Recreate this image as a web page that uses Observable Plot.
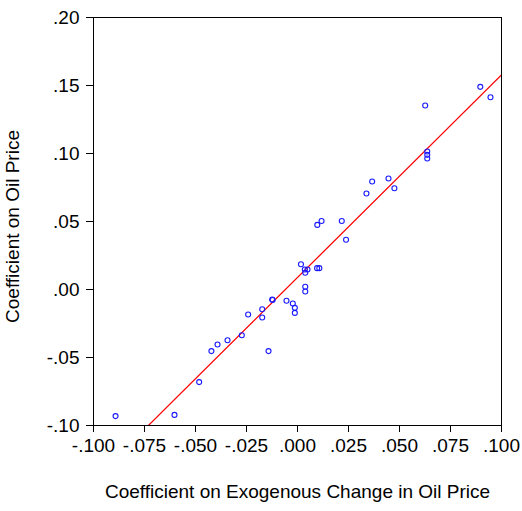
<!DOCTYPE html>
<html>
<head>
<meta charset="utf-8">
<script src="https://cdn.jsdelivr.net/npm/d3@7"></script>
<script src="https://cdn.jsdelivr.net/npm/@observablehq/plot@0.6"></script>
<style>
  html, body { margin: 0; padding: 0; background: white; }
  #chart { width: 522px; height: 511px; }
</style>
</head>
<body>
<div id="chart"></div>
<script>
// Coefficient on exogenous change in oil price (x)
const exoCoef = [
  0.0896, 0.0946, 0.0626, 0.0636, 0.0636, 0.0636,
  0.0366, 0.0446, 0.0475, 0.0338,
  0.0097, 0.0118, 0.0217, 0.0238,
  0.0017, 0.0036, 0.0049, 0.0038, 0.0096, 0.0107,
  0.0038, 0.0038,
  -0.0124, -0.0122, -0.0054, -0.0023, -0.0013, -0.0013,
  -0.0173, -0.0173, -0.0242, -0.0273, -0.0343, -0.0392,
  -0.0422, -0.0142, -0.0482, -0.0603, -0.0892
];
// Coefficient on oil price (y)
const oilCoef = [
  0.1490, 0.1414, 0.1353, 0.1015, 0.0990, 0.0963,
  0.0794, 0.0816, 0.0745, 0.0706,
  0.0475, 0.0504, 0.0504, 0.0366,
  0.0186, 0.0147, 0.0147, 0.0123, 0.0157, 0.0157,
  0.0020, -0.0015,
  -0.0074, -0.0077, -0.0083, -0.0103, -0.0135, -0.0172,
  -0.0145, -0.0206, -0.0184, -0.0336, -0.0373, -0.0404,
  -0.0453, -0.0453, -0.0681, -0.0922, -0.0931
];

const xDomain = [-0.1, 0.1];
const yDomain = [-0.1, 0.2];
const xTickValues = [-0.1, -0.075, -0.05, -0.025, 0, 0.025, 0.05, 0.075, 0.1];
const yTickValues = [-0.1, -0.05, 0, 0.05, 0.1, 0.15, 0.2];
const xTitle = "Coefficient on Exogenous Change in Oil Price";
const yTitle = "Coefficient on Oil Price";

const points = exoCoef.map((x, i) => ({x, y: oilCoef[i]}));

// OLS fit of oil coefficient on exogenous coefficient
const mx = d3.mean(exoCoef), my = d3.mean(oilCoef);
const sxy = d3.sum(points, p => (p.x - mx) * (p.y - my));
const sxx = d3.sum(points, p => (p.x - mx) ** 2);
const slope = sxy / sxx;
const intercept = my - slope * mx;
const fitPts = xDomain.map(x => ({x, y: intercept + slope * x}));

const fmt = digits => v => {
  const s = Math.abs(v).toFixed(digits).replace(/^0\./, ".");
  return (v < -1e-12 ? "-" : "") + s;
};

const chart = Plot.plot({
  width: 522,
  height: 511,
  marginLeft: 93,
  marginRight: 21,
  marginTop: 17,
  marginBottom: 86,
  style: {
    fontFamily: "'Liberation Sans', Arial, sans-serif",
    fontSize: "19px",
    background: "white",
    color: "black"
  },
  x: {domain: xDomain},
  y: {domain: yDomain},
  marks: [
    Plot.axisX({ticks: xTickValues, tickFormat: fmt(3), tickSize: 7, tickPadding: 6, label: null, fontSize: 19}),
    Plot.axisY({ticks: yTickValues, tickFormat: fmt(2), tickSize: 7, tickPadding: 7, label: null, fontSize: 19}),
    Plot.line(fitPts, {x: "x", y: "y", stroke: "#ff0000", strokeWidth: 1.25, clip: true}),
    Plot.dot(points, {x: "x", y: "y", r: 2.5, stroke: "#1a1aff", strokeWidth: 1.1, fill: "none"}),
    Plot.frame({stroke: "black", strokeWidth: 1}),
    Plot.text([xTitle], {text: d => d, frameAnchor: "bottom", dy: 72, fontSize: 19, fill: "black"}),
    Plot.text([yTitle], {text: d => d, frameAnchor: "left", textAnchor: "middle", dx: -81, dy: 5, rotate: -90, fontSize: 19, fill: "black"})
  ]
});
document.getElementById("chart").appendChild(chart);
</script>
</body>
</html>
